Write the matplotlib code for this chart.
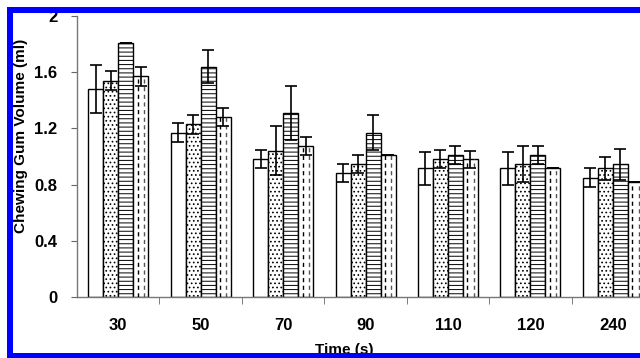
import matplotlib
matplotlib.use("Agg")
import matplotlib.pyplot as plt
from matplotlib.patches import Rectangle
import numpy as np

plt.rcParams['font.family'] = ['Liberation Sans', 'DejaVu Sans']
plt.rcParams['hatch.linewidth'] = 0.7

categories = ['30', '50', '70', '90', '110', '120', '240']
series_a = [1.48, 1.17, 0.98, 0.885, 0.915, 0.915, 0.85]
series_b = [1.54, 1.23, 1.04, 0.945, 0.98, 0.945, 0.915]
series_c = [1.81, 1.64, 1.31, 1.17, 1.01, 1.01, 0.945]
series_d = [1.57, 1.28, 1.075, 1.01, 0.98, 0.915, 0.815]
err_a = [0.17, 0.065, 0.065, 0.065, 0.115, 0.115, 0.065]
err_b = [0.065, 0.068, 0.175, 0.063, 0.065, 0.128, 0.08]
err_c = [0.0, 0.115, 0.19, 0.127, 0.062, 0.064, 0.11]
err_d = [0.065, 0.065, 0.065, 0.0, 0.062, 0.0, 0.0]
y_ticks = [0, 0.4, 0.8, 1.2, 1.6, 2]
y_tick_labels = ['0', '0.4', '0.8', '1.2', '1.6', '2']

W, H = 640, 358
fig = plt.figure(figsize=(W / 100, H / 100), dpi=100)
ax = fig.add_axes([77 / W, 1 - 297 / H, 1 - 77 / W, (297 - 16) / H])

x = np.arange(len(categories))
bw = 0.182
series = [series_a, series_b, series_c, series_d]
errs = [err_a, err_b, err_c, err_d]
hatches = [None, '....', '----', None]
for i, (vals, e, h) in enumerate(zip(series, errs, hatches)):
    xs = x + (i - 1.5) * bw
    ax.bar(xs, vals, width=bw, facecolor='white', edgecolor='black',
           linewidth=1.0, hatch=h, zorder=2)
    if i == 3:
        for xx, v in zip(xs, vals):
            for off, col in ((-0.2, 'black'), (0.22, '#555555')):
                ax.plot([xx + off * bw, xx + off * bw], [0, v], color=col, lw=1.0,
                        ls=(0, (3, 2.5)), zorder=3)
    ax.errorbar(xs, vals, yerr=e, fmt='none', ecolor='black',
                elinewidth=1.2, capsize=4, capthick=1.2, zorder=4)

ax.set_xlim(-0.5, 6.33)
ax.set_ylim(0, 2)
ax.set_yticks(y_ticks)
ax.set_yticklabels(y_tick_labels, fontsize=12, fontweight='bold')
ax.set_xticks(x)
ax.set_xticklabels(categories, fontsize=12, fontweight='bold')
ax.set_xticks(x[:-1] + 0.5, minor=True)
ax.tick_params(axis='x', which='major', length=0, pad=15)
ax.tick_params(axis='x', which='minor', length=5, direction='out', color='#666666')
ax.tick_params(axis='y', length=4, direction='out', color='#666666', pad=10)
for s in ['top', 'right']:
    ax.spines[s].set_visible(False)
for s in ['left', 'bottom']:
    ax.spines[s].set_color('#777777')
    ax.spines[s].set_linewidth(1.0)

fig.text(21.5 / W, 1 - 136 / H, 'Chewing Gum Volume (ml)', rotation=90,
         ha='center', va='center', fontsize=11, fontweight='bold')
fig.text(344 / W, 1 - 354 / H, 'Time (s)', ha='center', va='baseline',
         fontsize=11, fontweight='bold')

blue = '#0000ff'
def px_rect(x0, y0, x1, y1):
    fig.add_artist(Rectangle((x0 / W, 1 - y1 / H), (x1 - x0) / W, (y1 - y0) / H,
                             transform=fig.transFigure, facecolor=blue,
                             edgecolor='none', zorder=100))
px_rect(7, 7, 13, 358)
px_rect(7, 7, 640, 13)
px_rect(7, 353, 640, 358)

fig.savefig('out.png', dpi=100)
